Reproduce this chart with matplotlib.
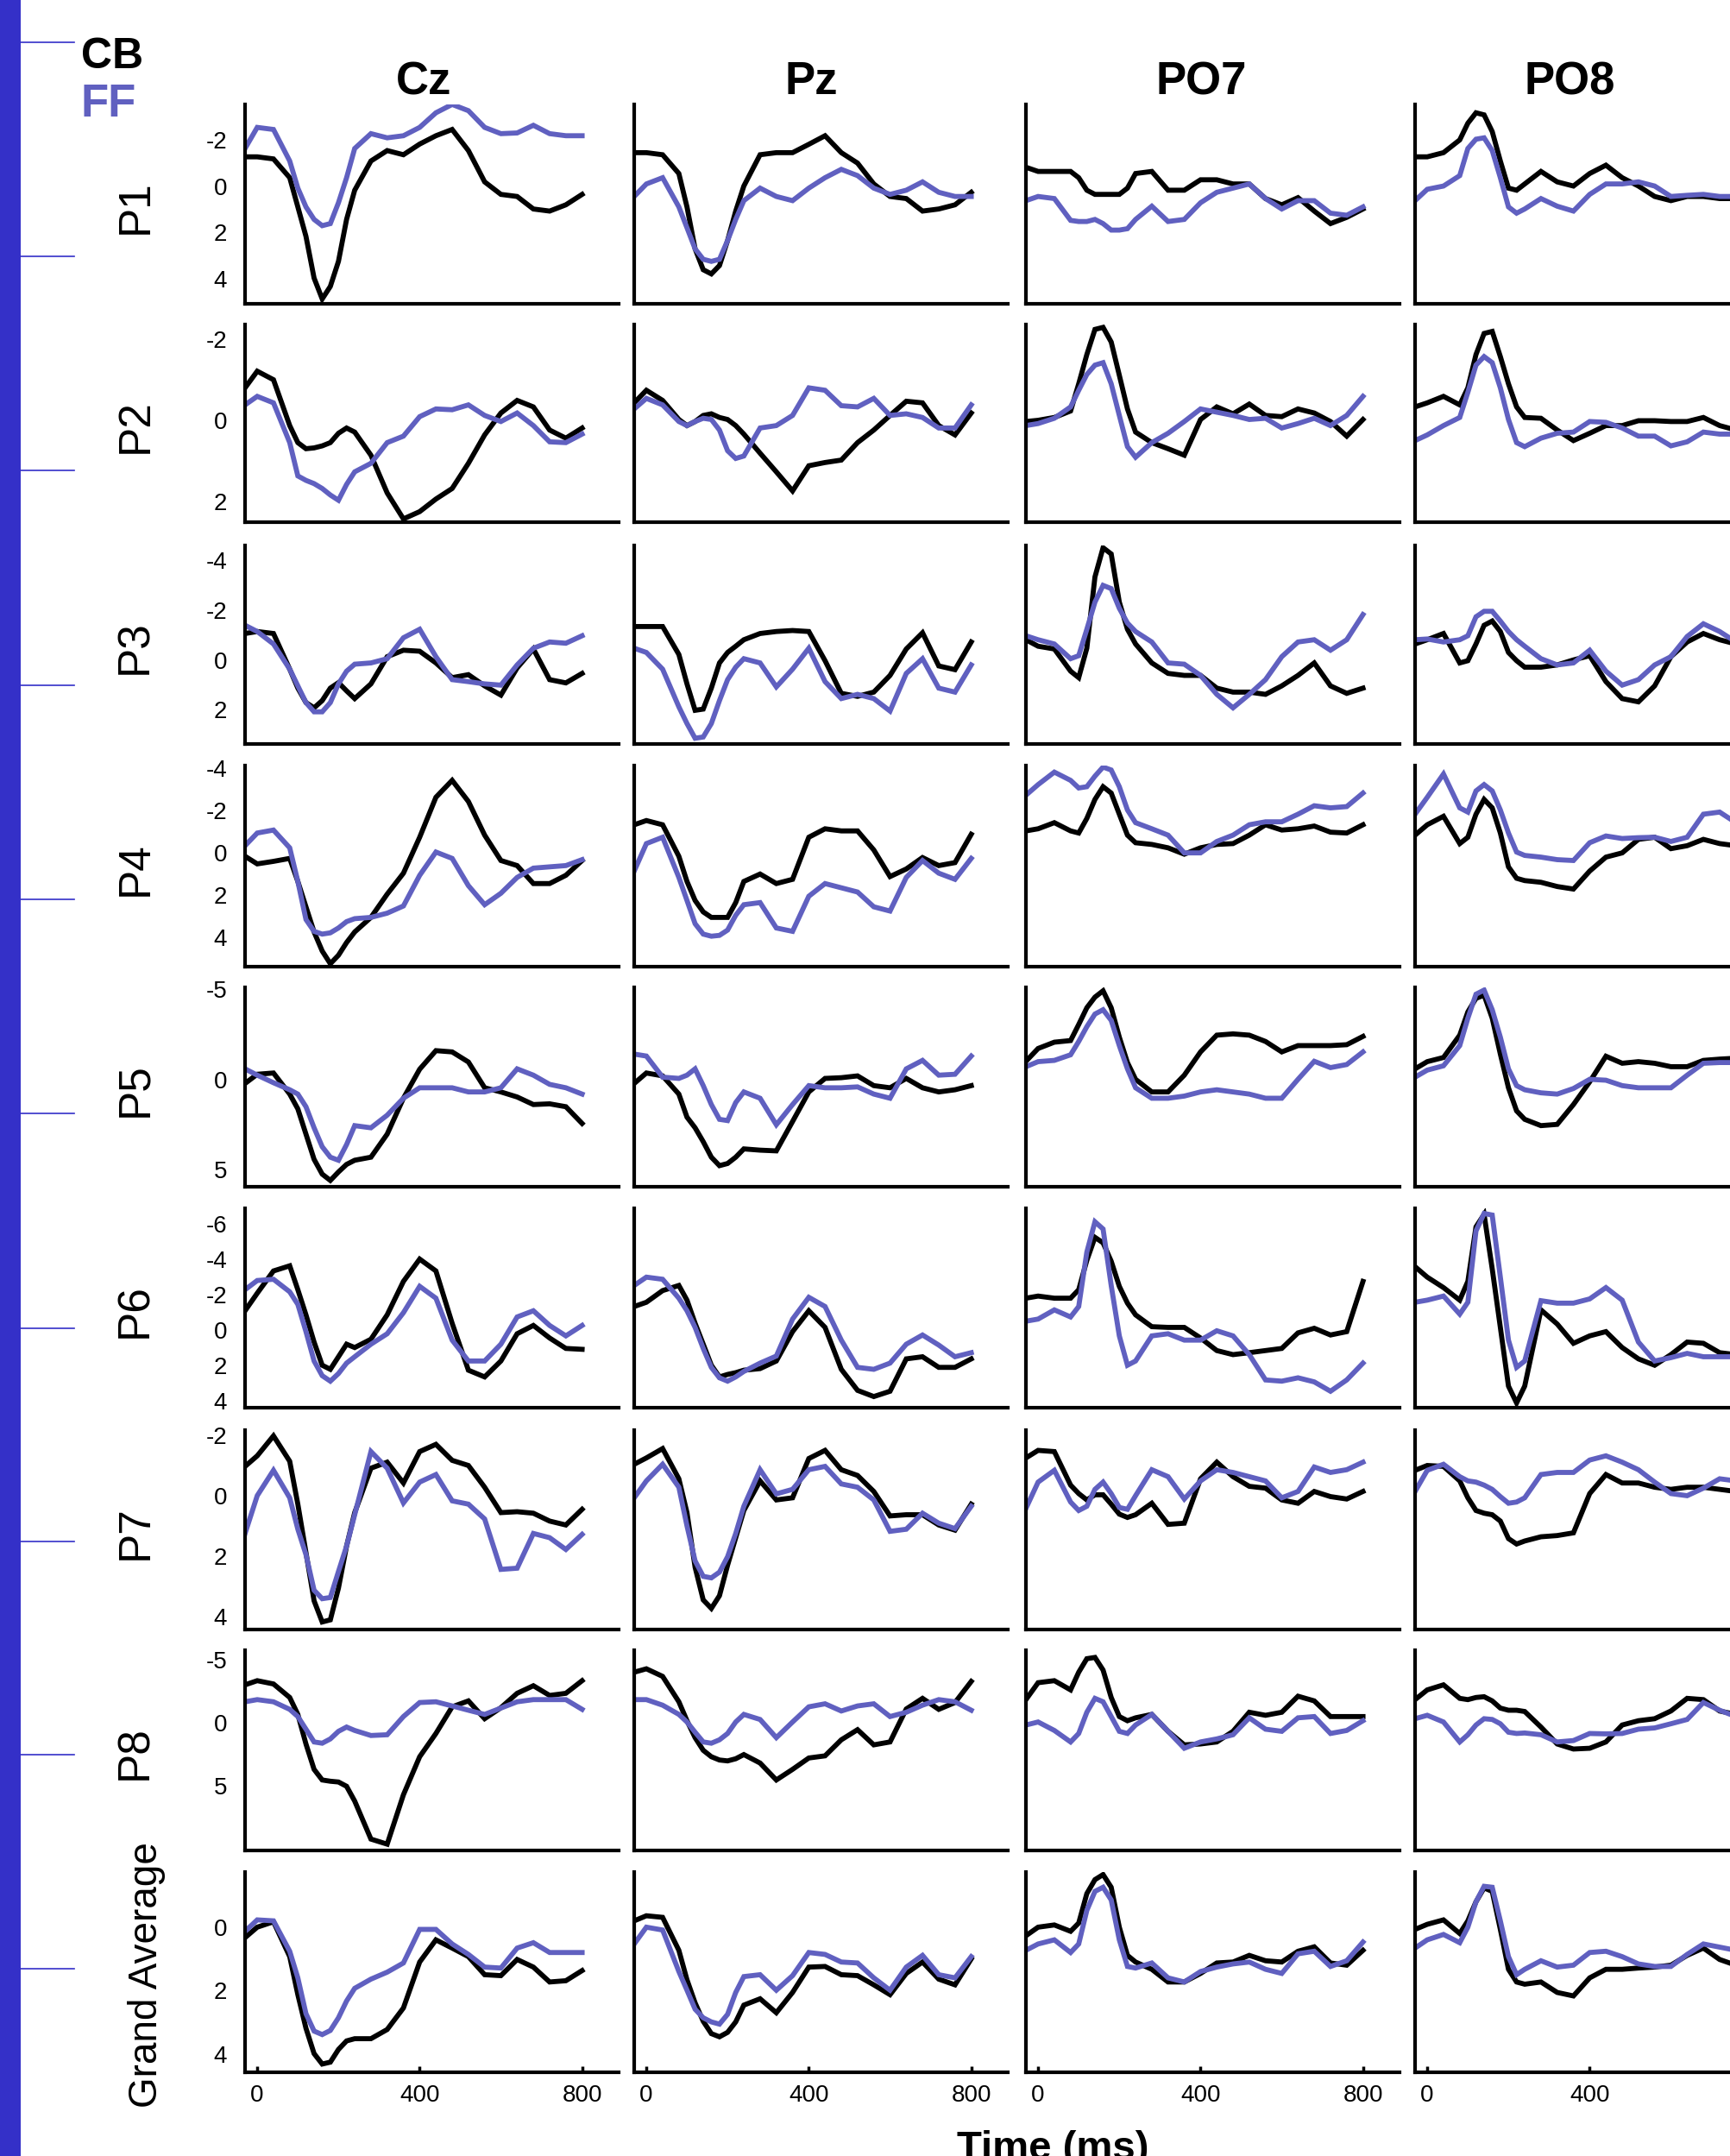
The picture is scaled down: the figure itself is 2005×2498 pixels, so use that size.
import matplotlib
matplotlib.use("Agg")
import matplotlib.pyplot as plt
from matplotlib import font_manager as fm
from matplotlib.patches import Rectangle
from matplotlib.lines import Line2D

# ---------------- data ----------------
channels = ["Cz", "Pz", "PO7", "PO8"]
row_labels = ["P1", "P2", "P3", "P4", "P5", "P6", "P7", "P8", "Grand Average"]
legend_labels = ["CB", "FF"]
x_ticks = [0, 400, 800]

t_ms = [-30, 0, 40, 80, 100, 120, 140, 160, 180, 200, 220, 240, 280, 320, 360,
        400, 440, 480, 520, 560, 600, 640, 680, 720, 760, 800]

# y tick values and (top, bottom) limits in microvolts (negative up)
y_ticks = [[-2, 0, 2, 4], [-2, 0, 2], [-4, -2, 0, 2], [-4, -2, 0, 2, 4], [-5, 0, 5],
           [-6, -4, -2, 0, 2, 4], [-2, 0, 2, 4], [-5, 0, 5], [0, 2, 4]]
y_limits = [(-3.52, 5.08), (-2.37, 2.5), (-4.59, 3.37), (-4.11, 5.4), (-5.1, 5.96),
            (-6.9, 4.37), (-2.17, 4.43), (-5.75, 10.1), (-1.74, 4.58)]

# each row: [Cz, Pz, PO7, PO8]
P1_CB = [[-1.26, -1.26, -1.17, -0.36, 0.9, 2.17, 3.97, 4.87, 4.33, 3.25, 1.44, 0.18, -1.08, -1.53, -1.35, -1.81, -2.17, -2.44, -1.53, -0.18, 0.36, 0.45, 0.99, 1.08, 0.81, 0.36],
         [-1.44, -1.44, -1.35, -0.54, 0.9, 2.71, 3.61, 3.79, 3.43, 2.35, 1.08, 0, -1.35, -1.44, -1.44, -1.8, -2.17, -1.44, -0.99, -0.09, 0.45, 0.54, 1.08, 0.99, 0.81, 0.27],
         [-0.81, -0.63, -0.63, -0.63, -0.36, 0.18, 0.36, 0.36, 0.36, 0.36, 0.09, -0.54, -0.63, 0.18, 0.18, -0.27, -0.27, -0.09, -0.09, 0.54, 0.81, 0.5, 1.08, 1.62, 1.35, 0.99],
         [-1.26, -1.26, -1.44, -1.99, -2.71, -3.16, -3.07, -2.35, -1.08, 0.09, 0.18, -0.09, -0.63, -0.18, 0, -0.54, -0.9, -0.36, 0, 0.45, 0.63, 0.45, 0.45, 0.54, 0.54, 0.54]]
P1_FF = [[-1.62, -2.53, -2.44, -1.08, 0.09, 0.9, 1.44, 1.71, 1.62, 0.72, -0.36, -1.62, -2.26, -2.08, -2.17, -2.53, -3.16, -3.52, -3.25, -2.53, -2.26, -2.29, -2.62, -2.26, -2.17, -2.17],
         [0.45, -0.09, -0.36, 0.9, 1.8, 2.71, 3.16, 3.25, 3.16, 2.35, 1.44, 0.63, 0.09, 0.45, 0.63, 0.09, -0.36, -0.72, -0.45, 0.09, 0.36, 0.18, -0.18, 0.27, 0.45, 0.45],
         [0.63, 0.45, 0.54, 1.48, 1.53, 1.53, 1.44, 1.62, 1.9, 1.9, 1.84, 1.44, 0.87, 1.53, 1.44, 0.72, 0.27, 0.09, -0.09, 0.54, 0.99, 0.63, 0.63, 1.17, 1.26, 0.9],
         [0.63, 0.14, 0, -0.45, -1.62, -2.02, -2.08, -1.53, -0.36, 0.9, 1.17, 0.99, 0.54, 0.87, 1.08, 0.36, -0.09, -0.09, -0.18, 0, 0.45, 0.4, 0.36, 0.45, 0.45, 0.45]]

P2_CB = [[-0.81, -1.22, -1.01, 0.12, 0.54, 0.69, 0.67, 0.62, 0.54, 0.31, 0.18, 0.28, 0.85, 1.78, 2.42, 2.24, 1.93, 1.67, 1.05, 0.35, -0.19, -0.5, -0.34, 0.23, 0.43, 0.18],
         [-0.44, -0.75, -0.5, -0.03, 0.12, 0.02, -0.13, -0.17, -0.08, -0.03, 0.12, 0.33, 0.8, 1.26, 1.73, 1.11, 1.03, 0.97, 0.54, 0.23, -0.13, -0.48, -0.44, 0.12, 0.35, -0.19],
         [0.02, -0.01, -0.08, -0.24, -0.91, -1.63, -2.25, -2.3, -1.94, -1.12, -0.29, 0.28, 0.54, 0.69, 0.85, -0.03, -0.34, -0.17, -0.41, -0.13, -0.1, -0.29, -0.19, 0.02, 0.38, -0.03],
         [-0.34, -0.44, -0.6, -0.39, -0.81, -1.63, -2.15, -2.2, -1.58, -0.91, -0.34, -0.08, -0.06, 0.23, 0.49, 0.31, 0.12, 0.12, 0, 0, 0.02, 0.02, -0.08, 0.12, 0.23, 0.23]]
P2_FF = [[-0.39, -0.6, -0.44, 0.54, 1.36, 1.47, 1.55, 1.67, 1.83, 1.96, 1.57, 1.26, 1.05, 0.54, 0.38, -0.1, -0.29, -0.27, -0.39, -0.13, 0.02, -0.19, 0.12, 0.52, 0.54, 0.33],
         [-0.29, -0.55, -0.39, 0.02, 0.12, 0.02, -0.06, -0.03, 0.23, 0.74, 0.93, 0.87, 0.18, 0.12, -0.13, -0.81, -0.75, -0.37, -0.34, -0.55, -0.13, -0.17, -0.08, 0.18, 0.18, -0.39],
         [0.12, 0.07, -0.06, -0.34, -0.75, -1.14, -1.37, -1.43, -0.91, -0.13, 0.64, 0.9, 0.54, 0.31, 0.02, -0.29, -0.21, -0.13, -0.03, -0.06, 0.18, 0.07, -0.06, 0.12, -0.13, -0.6],
         [0.49, 0.35, 0.12, -0.08, -0.7, -1.37, -1.58, -1.43, -0.81, -0.03, 0.54, 0.64, 0.43, 0.31, 0.28, 0.02, 0.04, 0.18, 0.38, 0.38, 0.62, 0.52, 0.28, 0.33, 0.33, 0.33]]

P3_CB = [[-1.06, -1.14, -1.06, 0.37, 1.13, 1.71, 1.92, 1.63, 1.13, 0.91, 1.24, 1.55, 0.96, -0.13, -0.39, -0.35, 0.12, 0.71, 0.59, 1.04, 1.41, 0.32, -0.44, 0.79, 0.92, 0.54],
         [-1.34, -1.34, -1.34, -0.22, 0.96, 2.02, 1.97, 1.13, 0.12, -0.3, -0.55, -0.81, -1.06, -1.14, -1.18, -1.14, 0.03, 1.34, 1.46, 1.29, 0.62, -0.44, -1.09, 0.24, 0.39, -0.72],
         [-0.81, -0.55, -0.44, 0.45, 0.71, -0.47, -3.33, -4.5, -4.25, -2.32, -1.23, -0.64, 0.12, 0.54, 0.62, 0.62, 1.13, 1.29, 1.29, 1.38, 1.04, 0.62, 0.12, 1.04, 1.34, 1.13],
         [-0.64, -0.81, -1.06, 0.12, 0.03, -0.64, -1.39, -1.56, -1.14, -0.3, 0.03, 0.29, 0.29, 0.2, 0, -0.17, 0.87, 1.55, 1.68, 1.04, -0.13, -0.72, -1.06, -0.81, -0.64, -0.64]]
P3_FF = [[-1.39, -1.14, -0.64, 0.37, 1.04, 1.71, 2.08, 2.08, 1.71, 0.96, 0.45, 0.17, 0.12, -0.05, -0.89, -1.23, -0.13, 0.79, 0.87, 0.96, 1.01, 0.2, -0.47, -0.72, -0.67, -0.97],
         [-0.47, -0.3, 0.37, 1.88, 2.55, 3.14, 3.09, 2.55, 1.63, 0.79, 0.29, -0.05, 0.12, 1.08, 0.37, -0.47, 0.87, 1.55, 1.38, 1.55, 2.05, 0.54, -0.05, 1.13, 1.29, 0.2],
         [-0.97, -0.81, -0.64, -0.05, -0.17, -1.23, -2.32, -2.99, -2.86, -2.07, -1.48, -1.14, -0.72, 0.12, 0.17, 0.62, 1.38, 1.92, 1.38, 0.79, -0.13, -0.72, -0.81, -0.39, -0.81, -1.82],
         [-0.81, -0.84, -0.72, -0.81, -0.97, -1.73, -1.95, -1.95, -1.56, -1.14, -0.81, -0.55, -0.05, 0.2, 0.12, -0.39, 0.45, 1.01, 0.79, 0.2, -0.13, -0.94, -1.45, -1.14, -0.72, -0.72]]

P4_CB = [[0.18, 0.54, 0.42, 0.28, 1.37, 2.57, 3.76, 4.66, 5.26, 4.86, 4.26, 3.76, 3.07, 1.97, 0.98, -0.72, -2.61, -3.41, -2.41, -0.82, 0.38, 0.62, 1.47, 1.47, 1.08, 0.38],
         [-1.31, -1.51, -1.31, 0.18, 1.37, 2.27, 2.81, 3.07, 3.07, 3.07, 2.37, 1.37, 1.02, 1.47, 1.27, -0.72, -1.12, -1.02, -1.02, -0.12, 1.14, 0.78, 0.24, 0.62, 0.48, -0.86],
         [-1.02, -1.12, -1.41, -1.02, -0.92, -1.61, -2.51, -3.11, -2.81, -1.81, -0.82, -0.46, -0.38, -0.22, 0.08, -0.22, -0.38, -0.42, -0.82, -1.31, -1.06, -1.12, -1.25, -0.96, -0.92, -1.31],
         [-0.82, -1.31, -1.71, -0.42, -0.72, -1.81, -2.51, -2.11, -0.92, 0.68, 1.22, 1.33, 1.41, 1.61, 1.73, 0.88, 0.22, 0.02, -0.62, -0.72, -0.18, -0.32, -0.62, -0.42, -0.32, -0.32]]
P4_FF = [[-0.32, -0.92, -1.06, -0.22, 1.37, 3.17, 3.73, 3.86, 3.8, 3.57, 3.27, 3.13, 3.07, 2.87, 2.53, 1.08, -0.02, 0.28, 1.57, 2.47, 1.93, 1.18, 0.74, 0.68, 0.62, 0.34],
         [0.88, -0.42, -0.72, 1.18, 2.27, 3.37, 3.86, 3.96, 3.92, 3.67, 2.97, 2.47, 2.37, 3.57, 3.73, 2.07, 1.47, 1.67, 1.87, 2.57, 2.77, 1.18, 0.38, 0.98, 1.27, 0.28],
         [-2.71, -3.21, -3.8, -3.41, -3.05, -3.11, -3.61, -4.04, -3.9, -3.11, -2.01, -1.41, -1.12, -0.82, 0.02, 0.02, -0.52, -0.82, -1.31, -1.45, -1.45, -1.81, -2.21, -2.11, -2.17, -2.81],
         [-1.81, -2.61, -3.71, -2.11, -1.91, -2.91, -3.21, -2.91, -2.01, -0.92, -0.02, 0.14, 0.22, 0.34, 0.38, -0.46, -0.78, -0.66, -0.7, -0.72, -0.52, -0.72, -1.81, -1.91, -1.41, -1.41]]

P5_CB = [[0.23, -0.28, -0.35, 0.82, 1.64, 3.04, 4.44, 5.26, 5.61, 5.14, 4.72, 4.49, 4.32, 3.04, 1.05, -0.56, -1.59, -1.52, -0.96, 0.47, 0.7, 0.98, 1.4, 1.36, 1.52, 2.45],
         [0.23, -0.35, -0.19, 0.82, 2.1, 2.69, 3.46, 4.32, 4.79, 4.67, 4.32, 3.86, 3.93, 3.97, 2.34, 0.7, -0.05, -0.09, -0.19, 0.35, 0.47, -0.05, 0.47, 0.7, 0.58, 0.35],
         [-1.0, -1.71, -2.06, -2.15, -3.04, -3.97, -4.56, -4.91, -3.97, -2.34, -0.93, 0, 0.7, 0.7, -0.23, -1.52, -2.45, -2.52, -2.45, -2.1, -1.52, -1.87, -1.87, -1.87, -1.92, -2.38],
         [-0.58, -0.98, -1.21, -2.45, -3.74, -4.49, -4.67, -3.39, -1.4, 0.47, 1.75, 2.22, 2.57, 2.5, 1.4, 0.14, -1.28, -0.89, -0.98, -0.89, -0.7, -0.7, -1.05, -1.12, -1.17, -1.17]]
P5_FF = [[-0.58, -0.23, 0.19, 0.58, 0.82, 1.52, 2.69, 3.74, 4.32, 4.49, 3.62, 2.57, 2.69, 1.99, 1.05, 0.47, 0.47, 0.47, 0.7, 0.7, 0.47, -0.58, -0.23, 0.28, 0.47, 0.82],
         [-1.4, -1.29, -0.12, -0.05, -0.23, -0.58, 0.35, 1.4, 2.22, 2.29, 1.29, 0.7, 1.05, 2.52, 1.4, 0.35, 0.47, 0.47, 0.42, 0.82, 1.05, -0.58, -1.05, -0.23, -0.28, -1.29],
         [-0.7, -0.98, -1.05, -1.36, -2.1, -2.92, -3.62, -3.86, -3.27, -1.87, -0.58, 0.47, 1.05, 1.05, 0.93, 0.7, 0.58, 0.7, 0.82, 1.05, 1.05, 0.0, -1.0, -0.65, -0.82, -1.52],
         [-0.12, -0.51, -0.75, -1.87, -3.39, -4.72, -4.95, -3.86, -2.34, -0.58, 0.35, 0.58, 0.75, 0.82, 0.51, 0, 0.05, 0.35, 0.47, 0.47, 0.47, -0.23, -0.89, -0.93, -0.93, -0.93]]

P6_CB = [[-1.11, -2.1, -3.36, -3.65, -2.3, -0.88, 0.66, 1.97, 2.2, 1.49, 0.78, 0.97, 0.5, -0.88, -2.77, -4.03, -3.36, -0.4, 2.25, 2.63, 1.73, 0.19, -0.28, 0.43, 1.02, 1.07],
         [-1.35, -1.59, -2.25, -2.54, -1.71, -0.4, 0.78, 1.97, 2.63, 2.49, 2.39, 2.25, 2.16, 1.73, 0.07, -1.11, -0.17, 2.2, 3.39, 3.74, 3.44, 1.61, 1.49, 2.09, 2.09, 1.61],
         [-1.82, -1.94, -1.82, -1.82, -2.3, -3.96, -5.26, -4.95, -3.91, -2.49, -1.54, -0.88, -0.21, -0.17, -0.17, 0.43, 1.14, 1.37, 1.26, 1.14, 1.02, 0.14, -0.12, 0.26, 0.07, -2.77],
         [-3.6, -3.01, -2.42, -1.71, -2.77, -5.85, -6.56, -3.48, -0.17, 3.15, 4.1, 3.15, -1.16, -0.36, 0.73, 0.31, 0.07, 0.97, 1.61, 1.97, 1.37, 0.66, 0.73, 1.26, 1.37, 1.37]]
P6_FF = [[-2.3, -2.82, -2.89, -2.18, -1.47, 0.07, 1.73, 2.56, 2.87, 2.44, 1.85, 1.49, 0.78, 0.19, -1.0, -2.49, -1.82, 0.55, 1.73, 1.73, 0.78, -0.76, -1.11, -0.28, 0.31, -0.28],
         [-2.54, -3.01, -2.89, -1.82, -1.11, -0.17, 1.02, 2.09, 2.68, 2.87, 2.63, 2.32, 1.85, 1.45, -0.64, -1.87, -1.35, 0.55, 2.09, 2.2, 1.85, 0.78, 0.26, 0.83, 1.49, 1.26],
         [-0.52, -0.64, -1.16, -0.76, -1.35, -4.43, -6.14, -5.73, -2.54, 0.31, 1.97, 1.73, 0.31, 0.19, 0.55, 0.55, 0.02, 0.31, 1.37, 2.8, 2.87, 2.68, 2.91, 3.44, 2.8, 1.85],
         [-1.59, -1.71, -1.94, -0.92, -1.59, -5.62, -6.61, -6.52, -3.01, 0.55, 2.09, 1.73, -1.68, -1.54, -1.54, -1.78, -2.42, -1.71, 0.66, 1.73, 1.54, 1.3, 1.49, 1.49, 1.49, 1.49]]

P7_CB = [[-0.97, -1.32, -1.98, -1.14, 0.28, 1.88, 3.48, 4.18, 4.11, 3.06, 1.67, 0.56, -0.91, -1.11, -0.42, -1.46, -1.7, -1.17, -1.0, -0.28, 0.56, 0.53, 0.58, 0.84, 0.97, 0.45],
         [-1.04, -1.25, -1.56, -0.56, 0.56, 2.37, 3.45, 3.73, 3.31, 2.3, 1.39, 0.49, -0.49, 0.14, 0.07, -1.23, -1.5, -0.86, -0.67, -0.14, 0.67, 0.63, 0.63, 0.97, 1.14, 0.28],
         [-1.25, -1.5, -1.46, -0.35, -0.07, 0.14, -0.03, -0.03, 0.28, 0.61, 0.72, 0.63, 0.25, 0.95, 0.91, -0.56, -1.11, -0.63, -0.31, -0.25, 0.14, 0.25, -0.14, 0.03, 0.11, -0.14],
         [-0.84, -1.0, -0.97, -0.49, 0.07, 0.49, 0.58, 0.63, 0.84, 1.42, 1.6, 1.5, 1.36, 1.32, 1.23, -0.07, -0.7, -0.42, -0.42, -0.28, -0.21, -0.28, -0.28, -0.21, -0.14, -0.14]]
P7_FF = [[1.25, 0.0, -0.84, 0.07, 1.11, 1.95, 3.13, 3.41, 3.37, 2.51, 1.67, 0.63, -1.46, -0.91, 0.24, -0.45, -0.7, 0.17, 0.28, 0.77, 2.44, 2.4, 1.25, 1.39, 1.78, 1.28],
         [0.07, -0.49, -1.04, -0.28, 1.0, 2.16, 2.67, 2.72, 2.53, 2.02, 1.25, 0.35, -0.86, -0.06, -0.21, -0.86, -0.97, -0.39, -0.28, 0.14, 1.18, 1.11, 0.58, 0.91, 1.09, 0.35],
         [0.42, -0.45, -0.84, 0.21, 0.49, 0.35, -0.21, -0.45, -0.07, 0.39, 0.45, 0, -0.86, -0.63, 0.11, -0.49, -0.86, -0.77, -0.63, -0.49, 0.07, -0.14, -0.95, -0.77, -0.86, -1.11],
         [-0.14, -0.84, -1.04, -0.63, -0.49, -0.45, -0.35, -0.21, 0.03, 0.25, 0.21, 0.07, -0.7, -0.77, -0.77, -1.18, -1.32, -1.11, -0.86, -0.45, -0.07, 0, -0.25, -0.56, -0.49, -0.49]]

P8_CB = [[-3.01, -3.34, -3.08, -2.01, -0.67, 1.67, 3.68, 4.52, 4.62, 4.68, 5.02, 6.19, 9.2, 9.6, 5.69, 2.68, 0.84, -1.27, -1.74, -0.33, -1.2, -2.34, -2.94, -2.17, -2.34, -3.34],
         [-4.01, -4.28, -3.68, -1.67, -0.17, 1.17, 2.17, 2.68, 2.94, 3.01, 2.84, 2.51, 3.18, 4.52, 3.68, 2.78, 2.61, 1.34, 0.54, 1.74, 1.51, -1.1, -1.94, -1.07, -1.61, -3.28],
         [-1.84, -3.18, -3.34, -2.61, -4.01, -5.08, -5.18, -4.18, -2.01, -0.5, -0.17, -0.4, -0.67, 0.67, 1.74, 1.67, 1.51, 0.67, -0.84, -0.6, -0.84, -2.11, -1.74, -0.5, -0.5, -0.5],
         [-1.84, -2.61, -3.01, -1.94, -1.84, -2.01, -2.07, -1.74, -1.17, -1.0, -1.0, -0.9, 0.33, 1.67, 2.07, 2.01, 1.51, 0.17, -0.17, -0.33, -0.94, -1.94, -1.84, -0.94, -0.67, -0.67]]
P8_FF = [[-1.67, -1.84, -1.67, -1.07, -0.5, 0.5, 1.51, 1.61, 1.27, 0.67, 0.33, 0.6, 1.0, 0.94, -0.5, -1.61, -1.67, -1.34, -1.0, -0.67, -1.17, -1.67, -1.84, -1.84, -1.84, -1.07],
         [-1.84, -1.84, -1.4, -0.67, -0.07, 0.74, 1.51, 1.61, 1.34, 0.84, -0.07, -0.67, -0.27, 1.17, -0.07, -1.27, -1.51, -0.94, -1.34, -1.51, -0.5, -0.84, -1.4, -1.84, -1.67, -1.0],
         [0.17, -0.07, 0.6, 1.51, 0.84, -0.84, -1.94, -1.67, -0.5, 0.67, 0.84, 0.17, -0.67, 0.67, 2.01, 1.51, 1.27, 0.94, -0.4, 0.5, 0.67, -0.4, -0.5, 0.84, 0.6, -0.17],
         [-0.33, -0.6, -0.07, 1.51, 0.94, 0.17, -0.33, -0.27, 0.07, 0.74, 0.84, 0.8, 0.94, 1.51, 1.4, 0.84, 0.87, 0.84, 0.5, 0.4, 0.07, -0.27, -1.61, -1.0, -0.5, -0.5]]

GA_CB = [[0.33, 0, -0.17, 0.93, 2.13, 3.19, 3.99, 4.32, 4.26, 3.86, 3.59, 3.52, 3.52, 3.23, 2.55, 1.1, 0.4, 0.66, 0.93, 1.5, 1.53, 1.02, 1.26, 1.73, 1.69, 1.37],
         [-0.2, -0.36, -0.31, 0.73, 1.66, 2.39, 2.97, 3.36, 3.46, 3.32, 2.99, 2.46, 2.26, 2.7, 2.06, 1.26, 1.24, 1.5, 1.53, 1.82, 2.13, 1.46, 1.1, 1.64, 1.82, 1.0],
         [0.27, 0, -0.07, 0.13, -0.13, -1.06, -1.5, -1.66, -1.26, 0, 0.89, 1.1, 1.33, 1.73, 1.73, 1.46, 1.13, 1.1, 0.89, 1.06, 1.1, 0.76, 0.62, 1.13, 1.2, 0.73],
         [0.07, -0.09, -0.23, 0.2, -0.2, -0.8, -1.24, -1.13, 0.07, 1.33, 1.73, 1.8, 1.73, 2.06, 2.17, 1.6, 1.33, 1.33, 1.29, 1.26, 1.2, 0.89, 0.66, 1.02, 1.2, 1.2]]
GA_FF = [[0.13, -0.23, -0.2, 0.76, 1.6, 2.73, 3.28, 3.39, 3.26, 2.86, 2.33, 1.93, 1.64, 1.42, 1.13, 0.07, 0.07, 0.53, 0.86, 1.26, 1.29, 0.66, 0.49, 0.8, 0.8, 0.8],
         [0.53, 0, 0.09, 1.4, 1.99, 2.59, 2.86, 2.99, 3.06, 2.75, 2.06, 1.56, 1.5, 1.99, 1.53, 0.8, 0.86, 1.1, 1.13, 1.6, 1.99, 1.26, 0.89, 1.5, 1.6, 0.93],
         [0.73, 0.53, 0.4, 0.8, 0.53, -0.53, -1.13, -1.26, -0.86, 0.4, 1.24, 1.29, 1.13, 1.6, 1.73, 1.4, 1.26, 1.16, 1.1, 1.33, 1.46, 0.84, 0.76, 1.24, 1.06, 0.47],
         [0.66, 0.4, 0.23, 0.49, 0, -0.8, -1.29, -1.26, -0.2, 0.93, 1.5, 1.33, 1.06, 1.26, 1.2, 0.8, 0.76, 0.93, 1.16, 1.24, 1.24, 0.86, 0.53, 0.63, 0.73, 0.73]]

CB_rows = [P1_CB, P2_CB, P3_CB, P4_CB, P5_CB, P6_CB, P7_CB, P8_CB, GA_CB]
FF_rows = [P1_FF, P2_FF, P3_FF, P4_FF, P5_FF, P6_FF, P7_FF, P8_FF, GA_FF]

# ---------------- style / layout ----------------
W, H = 2006, 2498
BLUE = "#6060c0"
BAR = "#3430c8"
plt.rcParams["axes.unicode_minus"] = False

names = {f.name for f in fm.fontManager.ttflist}
SANS = "Liberation Sans" if "Liberation Sans" in names else "DejaVu Sans"
NARROW = "Liberation Sans Narrow" if "Liberation Sans Narrow" in names else None

fig = plt.figure(figsize=(W / 100, H / 100), dpi=100)
fig.patch.set_facecolor("white")

col_left = [284, 735, 1189, 1640]
col_width = 433
row_top = [121, 376, 632, 887, 1144, 1400, 1657, 1912, 2169]
row_bottom = [352, 605, 862, 1120, 1375, 1631, 1888, 2144, 2401]


def fx(px):
    return px / W


def fy(py):
    return 1 - py / H


for r in range(9):
    for c in range(4):
        l = col_left[c]
        rect = [fx(l), fy(row_bottom[r]), col_width / W, (row_bottom[r] - row_top[r]) / H]
        ax = fig.add_axes(rect)
        ax.plot(t_ms, CB_rows[r][c], color="black", lw=4.2, solid_joinstyle="miter")
        ax.plot(t_ms, FF_rows[r][c], color=BLUE, lw=4.2, solid_joinstyle="miter")
        ax.set_xlim(-30, 890)
        top, bot = y_limits[r]
        ax.set_ylim(bot, top)
        ax.patch.set_alpha(0)
        for s in ("top", "right"):
            ax.spines[s].set_visible(False)
        for s in ("left", "bottom"):
            ax.spines[s].set_linewidth(3.0)
            ax.spines[s].set_color("black")
        if r == 8:
            ax.set_xticks(x_ticks)
            ax.set_xticklabels([str(v) for v in x_ticks])
            ax.tick_params(axis="x", direction="in", length=5, width=2.5, pad=10,
                           labelsize=20)
            for lab in ax.get_xticklabels():
                lab.set_family(SANS)
        else:
            ax.set_xticks([])
        if c == 0:
            ax.set_yticks(y_ticks[r])
            ax.set_yticklabels([str(v) for v in y_ticks[r]])
            ax.tick_params(axis="y", length=0, pad=15, labelsize=20)
            for lab in ax.get_yticklabels():
                lab.set_family(SANS)
        else:
            ax.set_yticks([])

# column titles
title_x = [491, 940, 1392, 1819]
for name, x in zip(channels, title_x):
    fig.text(fx(x), fy(109), name, ha="center", va="baseline", fontsize=38,
             fontweight="bold", family=SANS)

# row labels
if NARROW:
    lab_fam, p_size, ga_size = NARROW, 46, 40
else:
    lab_fam, p_size, ga_size = SANS, 37, 33
for r, name in enumerate(row_labels):
    yc = (row_top[r] + row_bottom[r]) / 2 + 3
    if r < 8:
        fig.text(fx(157), fy(yc), name, rotation=90, ha="center", va="center",
                 fontsize=p_size, family=lab_fam)
    else:
        fig.text(fx(170), fy(yc), name, rotation=90, ha="center", va="center",
                 fontsize=ga_size, family=lab_fam)

# legend
fig.text(fx(94), fy(79), legend_labels[0], ha="left", va="baseline", fontsize=36,
         fontweight="bold", color="black", family=SANS)
fig.text(fx(94), fy(135), legend_labels[1], ha="left", va="baseline", fontsize=38,
         fontweight="bold", color=BLUE, family=SANS)

# x-axis label (partially cut off at the bottom, as in the original)
fig.text(fx(1220), fy(2502), "Time (ms)", ha="center", va="baseline", fontsize=34,
         fontweight="bold", family=NARROW or SANS)

# slide decoration: blue bar and tick lines
fig.add_artist(Rectangle((0, 0), fx(24), 1, transform=fig.transFigure,
                         facecolor=BAR, edgecolor="none"))
for yy in [49, 297, 545, 794, 1042, 1290, 1539, 1786, 2033, 2281]:
    fig.add_artist(Line2D([fx(24), fx(86)], [fy(yy), fy(yy)], transform=fig.transFigure,
                          color=BAR, lw=1.2))

fig.savefig("out.png", dpi=100)
